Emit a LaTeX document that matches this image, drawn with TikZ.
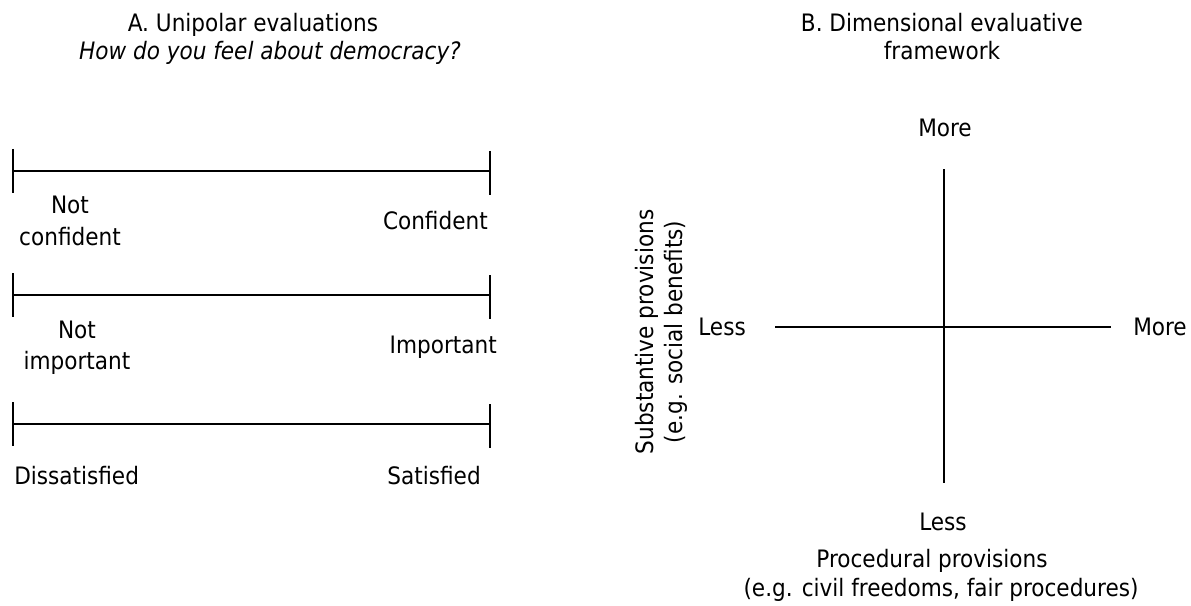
\documentclass[tikz,border=0pt]{standalone}
\usepackage{fontspec}
\setmainfont{DejaVu Sans Condensed}
\usepackage{tikz}
\usetikzlibrary{positioning}

\tikzset{
	lbl/.style={font=\fontsize{18}{23.5}\selectfont, inner sep=0pt, align=center},
	axisline/.style={black, line width=1.5pt}
}

\begin{document}
\begin{tikzpicture}[x=0.75pt,y=-0.75pt]
	\useasboundingbox (0,0) rectangle (1191,606);

	% panel A: unipolar scales
	\node[lbl,anchor=base] (titleA) at (253,32) {A. Unipolar evaluations};
	\node[lbl,anchor=base] (questA) at (270,60) {\textit{How do you feel about democracy?}};

	\coordinate (s1l) at (13,171);
	\coordinate (s1r) at (490,171);
	\coordinate (s2l) at (13,295);
	\coordinate (s2r) at (490,295);
	\coordinate (s3l) at (13,424);
	\coordinate (s3r) at (490,424);

	\draw[axisline] (s1l) -- (s1r);
	\draw[axisline] (s2l) -- (s2r);
	\draw[axisline] (s3l) -- (s3r);
	\draw[axisline] (s1l) ++(0,-22) -- ++(0,44);
	\draw[axisline] (s1r) ++(0,-20) -- ++(0,44);
	\draw[axisline] (s2l) ++(0,-22) -- ++(0,44);
	\draw[axisline] (s2r) ++(0,-20) -- ++(0,44);
	\draw[axisline] (s3l) ++(0,-22) -- ++(0,44);
	\draw[axisline] (s3r) ++(0,-20) -- ++(0,44);

	\node[lbl] (notconf) at (70,221) {Not\\confident};
	\node[lbl,anchor=east] (conf) at (488,221) {Confident};
	\node[lbl] (notimp) at (77,348) {Not\\important};
	\node[lbl,anchor=east] (imp) at (497,347) {Important};
	\node[lbl,anchor=west] (dissat) at (14,476) {Dissatisfied};
	\node[lbl,anchor=east] (sat) at (481,476) {Satisfied};

	% panel B: two dimensions
	\node[lbl,anchor=base] (titleB) at (942,32) {B. Dimensional evaluative};
	\node[lbl,anchor=base] (titleB2) at (942,60) {framework};

	\coordinate (top) at (944,169);
	\coordinate (bot) at (944,483);
	\coordinate (lft) at (775,327);
	\coordinate (rgt) at (1111,327);
	\draw[axisline] (top) -- (bot);
	\draw[axisline] (lft) -- (rgt);

	\node[lbl,anchor=base] (moretop) at (945,137) {More};
	\node[lbl,anchor=base] (lessbot) at (943,530) {Less};
	\node[lbl,anchor=east] (lessleft) at (746,327) {Less};
	\node[lbl,anchor=west] (moreright) at (1133,327) {More};

	\node[lbl,anchor=base] (xlabel) at (932,567) {Procedural provisions};
	\node[lbl,anchor=base] (xlabel2) at (941,596) {(e.g. civil freedoms, fair procedures)};
	\node[lbl,anchor=base,rotate=90] (ylabel) at (653,332) {Substantive provisions};
	\node[lbl,anchor=base,rotate=90] (ylabel2) at (682,332) {(e.g. social benefits)};

\end{tikzpicture}
\end{document}
